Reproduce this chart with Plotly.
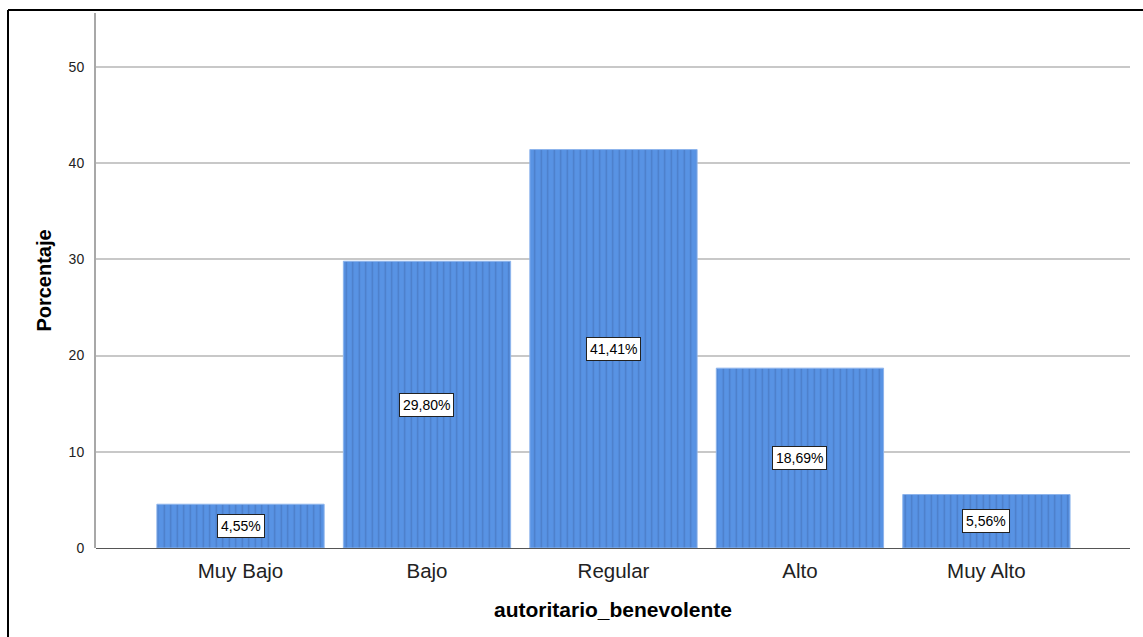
import plotly.graph_objects as go

categories = ["Muy Bajo", "Bajo", "Regular", "Alto", "Muy Alto"]
percentages = [4.55, 29.80, 41.41, 18.69, 5.56]
value_labels = ["4,55%", "29,80%", "41,41%", "18,69%", "5,56%"]
y_ticks = [0, 10, 20, 30, 40, 50]

W, H = 1143, 637
ML, MR, MT, MB = 96, 13, 13, 89
pw, ph = W - ML - MR, H - MT - MB

fig = go.Figure()
fig.add_trace(go.Bar(
    x=list(range(len(categories))),
    y=percentages,
    width=0.897,
    marker=dict(
        color="#5893E4",
        line=dict(color="#8DB4EC", width=1),
        pattern=dict(shape="|", fgcolor="#3F67A8", size=6.5, solidity=0.22),
    ),
    hoverinfo="skip",
))

for i, (v, lab) in enumerate(zip(percentages, value_labels)):
    fig.add_annotation(
        x=i, y=v / 2, text=lab, showarrow=False,
        font=dict(family="Arial, Liberation Sans", size=14, color="black"),
        bgcolor="white", bordercolor="#222", borderwidth=1, borderpad=3,
    )

# outer frame (left and top edges)
fx0 = (8 - ML) / pw
fy1 = (H - MB - 10) / ph
fig.add_shape(type="line", xref="paper", yref="paper", x0=fx0, x1=fx0, y0=fy1, y1=-0.3,
              line=dict(color="black", width=2))
fig.add_shape(type="line", xref="paper", yref="paper", x0=fx0, x1=1.2, y0=fy1, y1=fy1,
              line=dict(color="black", width=2))

fig.update_layout(
    width=W, height=H,
    margin=dict(l=ML, r=MR, t=MT, b=MB),
    paper_bgcolor="white", plot_bgcolor="white",
    showlegend=False,
    font=dict(family="Arial, Liberation Sans", color="#222"),
    xaxis=dict(
        range=[-0.775, 4.77],
        tickvals=list(range(len(categories))),
        ticktext=categories,
        tickfont=dict(size=20.5, color="#222"),
        showgrid=False, zeroline=False,
        showline=False, ticks="", ticklabelstandoff=8,
        title=dict(text="<b>autoritario_benevolente</b>", font=dict(size=21, color="black"), standoff=21),
    ),
    yaxis=dict(
        range=[0, 55.6],
        tickvals=y_ticks,
        tickfont=dict(size=14, color="#222"),
        showgrid=True, gridcolor="#C8C8C8", gridwidth=2,
        zeroline=True, zerolinecolor="#555", zerolinewidth=1,
        showline=True, linecolor="#A8A8A8", linewidth=2,
        ticks="", ticklabelstandoff=7,
        title=dict(text="<b>Porcentaje</b>", font=dict(size=20, color="black"), standoff=12),
    ),
)

fig.write_html("out.html")
